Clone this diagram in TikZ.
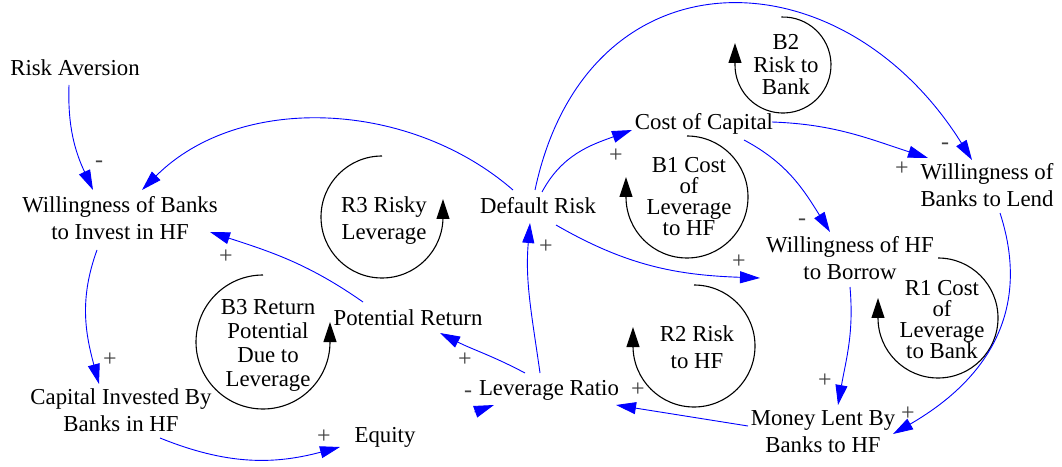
\documentclass[tikz,border=0pt]{standalone}
\usepackage{fontspec}
\setmainfont{Liberation Serif}
\usetikzlibrary{arrows.meta,calc}
\begin{document}
\begin{tikzpicture}[x=1pt,y=1pt,
  var/.style={inner sep=1pt, align=center, font=\fontsize{22.8}{27}\selectfont},
  looptext/.style={inner sep=0pt, align=center, font=\fontsize{22.8}{#1}\selectfont},
  conn/.style={draw=blue, line width=0.9pt, -{Triangle[length=20pt,width=12pt]}},
  loopline/.style={draw=black, line width=1.1pt, -{Triangle[length=20pt,width=13pt]}},
  pol/.style={inner sep=0pt, text=black!75, font=\fontsize{24}{24}\selectfont}
]
\fill[white] (0,0) rectangle (1062,466);
\useasboundingbox (0,0) rectangle (1062,466);

% variables
\node[var] (RA)  at (75,398)  {Risk Aversion};
\node[var] (WBI) at (120,248) {Willingness of Banks\\to Invest in HF};
\node[var] (CI)  at (121,56)  {Capital Invested By\\Banks in HF};
\node[var] (EQ)  at (385,29)  {Equity};
\node[var] (PR)  at (408,148) {Potential Return};
\node[var] (LR)  at (549,76)  {Leverage Ratio};
\node[var] (DR)  at (538,260) {Default Risk};
\node[var] (CC)  at (704,342) {Cost of Capital};
\node[var] (WBL) at (987,281) {Willingness of\\Banks to Lend};
\node[var] (WHB) at (850,208) {Willingness of HF\\to Borrow};
\node[var] (ML)  at (823,34)  {Money Lent By\\Banks to HF};

% loop symbols
\coordinate (b2) at (783,401);
\coordinate (b1) at (687,269);
\coordinate (r3) at (382,249);
\coordinate (b3) at (263,124);
\coordinate (r2) at (694,120);
\coordinate (r1) at (938,148);
\draw[loopline] ([shift={(92:48)}]b2) arc[start angle=92,end angle=-180,radius=48] -- ++(0,22);
\draw[loopline] ([shift={(90:61)}]b1) arc[start angle=90,end angle=-180,radius=61] -- ++(0,20);
\draw[loopline] ([shift={(90:61)}]r3) arc[start angle=90,end angle=360,radius=61] -- ++(0,18);
\draw[loopline] ([shift={(90:67)}]b3) arc[start angle=90,end angle=360,radius=67] -- ++(0,20);
\draw[loopline] ([shift={(90:61)}]r2) arc[start angle=90,end angle=-180,radius=61] -- ++(0,19);
\draw[loopline] ([shift={(90:60)}]r1) arc[start angle=90,end angle=-180,radius=60] -- ++(0,20);
\node[looptext=22.5] (tb2) at (786,401) {B2\\Risk to\\Bank};
\node[looptext=21]   (tb1) at (689,269) {B1 Cost\\of\\Leverage\\to HF};
\node[looptext=27]   (tr3) at (384,245) {R3 Risky\\Leverage};
\node[looptext=24]   (tb3) at (268,121) {B3 Return\\Potential\\Due to\\Leverage};
\node[looptext=27]   (tr2) at (697,119) {R2 Risk\\to HF};
\node[looptext=21]   (tr1) at (942,146) {R1 Cost\\of\\Leverage\\to Bank};

% connectors
\draw[conn] ([shift={(-6,-17)}]RA.center) to[out=-92,in=115] ([shift={(-27,28)}]WBI.center);
\draw[conn] ([shift={(-25,16)}]DR.center) to[out=139,in=45,looseness=0.95] ([shift={(22,28)}]WBI.center);
\draw[conn] ([shift={(-45,16)}]PR.center) to[out=145,in=-18] ([shift={(90,-14)}]WBI.center);
\draw[conn] ([shift={(-23,-32)}]WBI.center) to[out=-110,in=105] ([shift={(-22,26)}]CI.center);
\draw[conn] ([shift={(39,-28)}]CI.center) to[out=-22,in=-165] ([shift={(-45,-10)}]EQ.center);
\draw[conn] ([shift={(-74.5,-22)}]LR.center) -- ([shift={(-55,-15)}]LR.center);
\draw[conn] ([shift={(-24,17)}]LR.center) to[out=152,in=-27] ([shift={(32,-15)}]PR.center);
\draw[conn] ([shift={(-9,17)}]LR.center) to[out=98,in=-95] ([shift={(-8,-17)}]DR.center);
\draw[conn] ([shift={(4,14)}]DR.center) to[out=62,in=-160] ([shift={(-72,-6)}]CC.center);
\draw[conn] ([shift={(-3,16)}]DR.center) to[out=78,in=122,looseness=1.45] ([shift={(-15,25)}]WBL.center);
\draw[conn] ([shift={(18,-19)}]DR.center) to[out=-30,in=178] ([shift={(-90,-20)}]WHB.center);
\draw[conn] ([shift={(68,2)}]CC.center) to[out=-2,in=162] ([shift={(-59,27)}]WBL.center);
\draw[conn] ([shift={(40,-16)}]CC.center) to[out=-28,in=122] ([shift={(-20,26)}]WHB.center);
\draw[conn] ([shift={(0,-29)}]WHB.center) to[out=-85,in=80] ([shift={(15,27)}]ML.center);
\draw[conn] ([shift={(13,-28)}]WBL.center) to[out=-72,in=30,looseness=1.1] ([shift={(70,-2)}]ML.center);
\draw[conn] ([shift={(-75,6)}]ML.center) -- ([shift={(67,-15)}]LR.center);

% polarities
\node[pol] (p1)  at (99,302)  {-};
\node[pol] (p3)  at (226,209) {+};
\node[pol] (p4)  at (110,106) {+};
\node[pol] (p5)  at (324,29)  {+};
\node[pol] (p6)  at (468,72)  {-};
\node[pol] (p7)  at (465,106) {+};
\node[pol] (p8)  at (546,219) {+};
\node[pol] (p9)  at (616,310) {+};
\node[pol] (p10) at (945,320) {-};
\node[pol] (p11) at (739,204) {+};
\node[pol] (p12) at (902,297) {+};
\node[pol] (p13) at (802,244) {-};
\node[pol] (p14) at (825,85)  {+};
\node[pol] (p15) at (908,52)  {+};
\node[pol] (p16) at (638,76)  {+};
\end{tikzpicture}
\end{document}
